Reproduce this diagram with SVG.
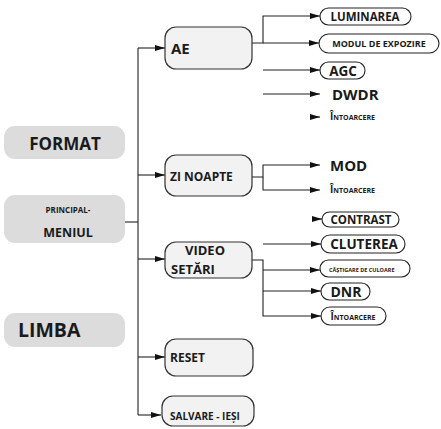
<svg xmlns="http://www.w3.org/2000/svg" width="441" height="429" viewBox="0 0 441 429">
<style>
text{font-family:"Open Sans","Noto Sans","DejaVu Sans",sans-serif;font-weight:bold;fill:#1a1a1a}
.gray{fill:#dcdcdc;stroke:none}
.box{fill:#f2f2f2;stroke:#333;stroke-width:1.2}
.pill{fill:#fff;stroke:#222;stroke-width:1.1}
.ln{fill:none;stroke:#222;stroke-width:1.1}
.sc{font-variant:small-caps}
</style>
<defs>
<marker id="ah" viewBox="0 0 10 6" refX="10" refY="3" markerWidth="10" markerHeight="6" markerUnits="userSpaceOnUse" orient="auto">
<path d="M0,0L10,3L0,6z" fill="#111"/>
</marker>
</defs>
<rect width="441" height="429" fill="#fff"/>
<g id="connectors">
<path class="ln" d="M125,222H138" stroke-width="2"/>
<path class="ln" d="M138,48V415"/>
<path class="ln" d="M138,48H165" marker-end="url(#ah)"/>
<path class="ln" d="M138,175H165" marker-end="url(#ah)"/>
<path class="ln" d="M138,259H165" marker-end="url(#ah)"/>
<path class="ln" d="M138,357H165" marker-end="url(#ah)"/>
<path class="ln" d="M138,415H161" marker-end="url(#ah)"/>
<path class="ln" d="M252,43H263V16H320" marker-end="url(#ah)"/>
<path class="ln" d="M263,43H319" marker-end="url(#ah)"/>
<path class="ln" d="M263,70H320" marker-end="url(#ah)"/>
<path class="ln" d="M263,94H320" marker-end="url(#ah)"/>
<path class="ln" d="M310,117H320" marker-end="url(#ah)"/>
<path class="ln" d="M252,177H263V165H320" marker-end="url(#ah)"/>
<path class="ln" d="M263,177V190H320" marker-end="url(#ah)"/>
<path class="ln" d="M312,219H322" marker-end="url(#ah)"/>
<path class="ln" d="M263,244H321" marker-end="url(#ah)"/>
<path class="ln" d="M252,260H263V316H321" marker-end="url(#ah)"/>
<path class="ln" d="M263,270H320" marker-end="url(#ah)"/>
<path class="ln" d="M263,291H321" marker-end="url(#ah)"/>
</g>
<g id="format"><rect class="gray" x="4" y="126" width="121" height="33" rx="11"/><text x="65" y="150" font-size="17" text-anchor="middle">FORMAT</text></g>
<g id="principal"><rect class="gray" x="4" y="195" width="121" height="48" rx="11"/><text x="68" y="213" font-size="8" text-anchor="middle">PRINCIPAL-</text><text x="68" y="237" font-size="12.5" text-anchor="middle">MENIUL</text></g>
<g id="limba"><rect class="gray" x="4" y="313" width="121" height="34" rx="11"/><text x="18" y="337" font-size="19.5">LIMBA</text></g>
<g id="ae"><rect class="box" x="165" y="27" width="87" height="42" rx="11"/><text x="171" y="54" font-size="15">AE</text></g>
<g id="zinoapte"><rect class="box" x="165" y="155" width="87" height="41" rx="11"/><text x="170" y="181" font-size="12">ZI NOAPTE</text></g>
<g id="video"><rect class="box" x="165" y="242" width="87" height="36" rx="11"/><text x="205" y="255" font-size="13" text-anchor="middle">VIDEO</text><text x="171" y="274" font-size="13">SETĂRI</text></g>
<g id="reset"><rect class="box" x="165" y="339" width="88" height="37" rx="11"/><text x="170" y="362" font-size="12">RESET</text></g>
<g id="salvare"><rect class="box" x="162" y="396" width="92" height="30" rx="11"/><text x="170" y="420" font-size="10">SALVARE - IEȘI</text></g>
<g id="luminarea"><rect class="pill" x="320" y="8" width="91" height="17" rx="8.5"/><text x="365" y="21" font-size="11.5" text-anchor="middle">LUMINAREA</text></g>
<g id="modul"><rect class="pill" x="319" y="34" width="120" height="19" rx="9.5"/><text x="379" y="47" font-size="9" text-anchor="middle">MODUL DE EXPOZIRE</text></g>
<g id="agc"><rect class="pill" x="320" y="62" width="45" height="17" rx="8.5"/><text x="343" y="75.5" font-size="13.5" text-anchor="middle">AGC</text></g>
<g id="dwdr"><text x="332" y="100" font-size="15">DWDR</text></g>
<g id="intoarcere1"><text class="sc" x="330" y="120" font-size="10">Întoarcere</text></g>
<g id="mod"><text x="330" y="171" font-size="15">MOD</text></g>
<g id="intoarcere2"><text class="sc" x="330" y="193" font-size="10">Întoarcere</text></g>
<g id="contrast"><rect class="pill" x="322" y="212" width="77" height="15" rx="7.5"/><text x="361" y="224" font-size="11.5" text-anchor="middle">CONTRAST</text></g>
<g id="cluterea"><rect class="pill" x="321" y="235" width="84" height="18" rx="9"/><text x="364" y="249" font-size="13.5" text-anchor="middle">CLUTEREA</text></g>
<g id="castigare"><rect class="pill" x="320" y="260" width="90" height="17" rx="8.5"/><text x="329" y="272" font-size="5.5">CĂȘTIGARE DE CULOARE</text></g>
<g id="dnr"><rect class="pill" x="321" y="283" width="49" height="17" rx="8.5"/><text x="346" y="297" font-size="14" text-anchor="middle">DNR</text></g>
<g id="intoarcere3"><rect class="pill" x="321" y="307" width="65" height="18" rx="9"/><text class="sc" x="353" y="320" font-size="10" text-anchor="middle">Întoarcere</text></g>
</svg>
